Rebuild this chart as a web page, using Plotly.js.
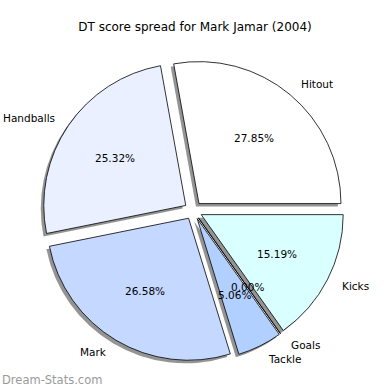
<!DOCTYPE html>
<html>
<head>
<meta charset="utf-8">
<script src="https://cdn.plot.ly/plotly-3.0.1.min.js"></script>
<style>
html,body{margin:0;padding:0;background:#fff;}
#chart{width:390px;height:390px;}
</style>
</head>
<body>
<div id="chart"></div>
<script>
// Data
const categories = ["Hitout", "Handballs", "Mark", "Tackle", "Goals", "Kicks"];
const scores = [22, 20, 21, 4, 0, 12];
const sliceColors = ["#FFFFFF", "#EAF0FF", "#C5D8FF", "#B1D0FF", "#9FC3FF", "#DAFFFF"];
const titleText = "DT score spread for Mark Jamar (2004)";
const watermark = "Dream-Stats.com";

// Geometry (pixels)
const W = 390, H = 390;
const CX = 193.2, CY = 210.5, R = 142, PULLPX = 9;
const pull = PULLPX / R;
const half = R * (1 + pull);
const SH = 3; // shadow offset px

const total = scores.reduce((a, b) => a + b, 0);
// Plotly places the first counterclockwise slice ending at the rotation angle;
// shift so the first slice starts at 3 o'clock.
const rot = 90 - 360 * scores[0] / total;

function dom(dx, dy) {
  return {
    x: [(CX + dx - half) / W, (CX + dx + half) / W],
    y: [1 - (CY + dy + half) / H, 1 - (CY + dy - half) / H]
  };
}

const common = {
  type: "pie",
  labels: categories,
  values: scores,
  sort: false,
  direction: "counterclockwise",
  rotation: rot,
  pull: scores.map(() => pull),
  textinfo: "none",
  hoverinfo: "label+percent",
  showlegend: false
};

const shadow = Object.assign({}, common, {
  domain: dom(-SH, SH),
  marker: { colors: scores.map(() => "rgba(60,60,60,0.55)"), line: { width: 0 } },
  hoverinfo: "skip"
});
const main = Object.assign({}, common, {
  domain: dom(0, 0),
  marker: { colors: sliceColors, line: { color: "#000000", width: 0.8 } }
});

// Text annotations placed from data-derived angles
const annotations = [];
let cum = 0;
const fnt = { family: "DejaVu Sans, sans-serif", size: 10.5, color: "#000" };
scores.forEach((v, i) => {
  const frac = v / total;
  const mid = (cum + frac / 2) * 2 * Math.PI;
  cum += frac;
  const ox = CX + PULLPX * Math.cos(mid);
  const oy = CY - PULLPX * Math.sin(mid);
  const lx = ox + 1.1 * R * Math.cos(mid);
  const ly = oy - 1.1 * R * Math.sin(mid);
  annotations.push({
    x: lx / W, y: 1 - ly / H, xref: "paper", yref: "paper",
    text: categories[i], showarrow: false,
    xanchor: Math.cos(mid) > 0 ? "left" : "right", yanchor: "middle",
    font: fnt
  });
  const px = ox + 0.6 * R * Math.cos(mid);
  const py = oy - 0.6 * R * Math.sin(mid);
  annotations.push({
    x: px / W, y: 1 - py / H, xref: "paper", yref: "paper",
    text: (frac * 100).toFixed(2) + "%", showarrow: false,
    xanchor: "center", yanchor: "middle", font: fnt
  });
});
annotations.push({
  x: 0, y: 1 - 380 / H, xref: "paper", yref: "paper",
  text: watermark, showarrow: false, xanchor: "left", yanchor: "middle",
  font: { family: "DejaVu Sans, sans-serif", size: 11.5, color: "#9a9a9a" }
});

const layout = {
  width: W, height: H,
  margin: { l: 0, r: 0, t: 0, b: 0 },
  paper_bgcolor: "#ffffff",
  title: {
    text: titleText,
    font: { family: "DejaVu Sans, sans-serif", size: 12, color: "#000" },
    x: 0.5, xanchor: "center", y: 1 - 27 / H, yanchor: "middle", yref: "paper"
  },
  annotations: annotations
};

Plotly.newPlot("chart", [shadow, main], layout, { displayModeBar: false, staticPlot: true });
</script>
</body>
</html>
